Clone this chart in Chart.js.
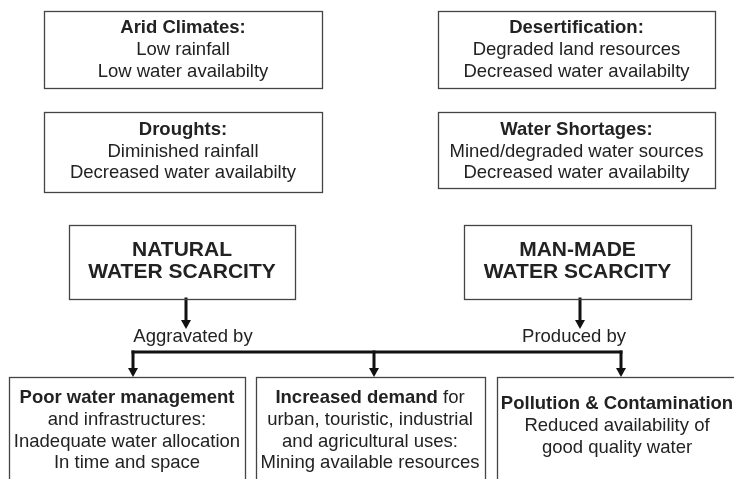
<!DOCTYPE html>
<html>
<head>
<meta charset="utf-8">
<script src="https://cdn.jsdelivr.net/npm/chart.js@4/dist/chart.umd.min.js"></script>
<style>
  body { margin: 0; background: #fff; }
  #wrap { width: 734px; height: 479px; }
</style>
</head>
<body>
<div id="wrap"><canvas id="diagramChart"></canvas></div>
<script>
// texts of the diagram
const topTitles = ['Arid Climates:', 'Droughts:', 'Desertification:', 'Water Shortages:'];
const topLines = [
    ['Low rainfall', 'Low water availabilty'],
    ['Diminished rainfall', 'Decreased water availabilty'],
    ['Degraded land resources', 'Decreased water availabilty'],
    ['Mined/degraded water sources', 'Decreased water availabilty']
];
const scarcityTypes = [['NATURAL', 'WATER SCARCITY'], ['MAN-MADE', 'WATER SCARCITY']];
const linkLabels = ['Aggravated by', 'Produced by'];
// each line is a list of [text, bold] runs
const causeLines = [
    [[['Poor water management', true]], [['and infrastructures:', false]], [['Inadequate water allocation', false]], [['In time and space', false]]],
    [[['Increased demand', true], [' for', false]], [['urban, touristic, industrial', false]], [['and agricultural uses:', false]], [['Mining available resources', false]]],
    [[['Pollution & Contamination', true]], [['Reduced availability of', false]], [['good quality water', false]]]
];

// layout in scale units (x: 0..734, y: 0..479 top-down)
const topBoxes = [[44, 11, 322, 88], [44, 112, 322, 192], [438, 11, 715, 88], [438, 112, 715, 188]];
const topTextY = [[28, 50, 72], [130, 152, 173], [28, 50, 72], [130, 152, 173]];
const scarcityBoxes = [[69, 225, 295, 299], [464, 225, 691, 299]];
const scarcityTextY = [250, 272];
const linkLabelPos = [[193, 337], [574, 337]];
const causeBoxes = [[9, 377, 245, 490], [256, 377, 485, 490], [497, 377, 745, 490]];
const causeTextX = [127, 370, 617];
const causeTextY = [[398, 420, 442, 463], [398, 420, 442, 463], [404, 426, 448]];

const connectors = [
    [[186, 299], [186, 322]],
    [[580, 299], [580, 322]],
    [[133, 352], [621, 352]],
    [[133, 352], [133, 371]],
    [[374, 352], [374, 371]],
    [[621, 352], [621, 371]]
];
const arrowTips = [[186, 329], [580, 329], [133, 377], [374, 377], [621, 377]];

const FONT = '"Liberation Sans", Arial, Helvetica, sans-serif';
const TEXT_COLOR = '#222';
const SIZE = 18.5;

function drawRuns(ctx, runs, cx, cy, size) {
    let total = 0;
    runs.forEach(r => {
        ctx.font = (r[1] ? 'bold ' : '') + size + 'px ' + FONT;
        total += ctx.measureText(r[0]).width;
    });
    let x = cx - total / 2;
    runs.forEach(r => {
        ctx.font = (r[1] ? 'bold ' : '') + size + 'px ' + FONT;
        ctx.textAlign = 'left';
        ctx.fillText(r[0], x, cy);
        x += ctx.measureText(r[0]).width;
    });
}

const diagramPlugin = {
    id: 'diagram',
    afterDatasetsDraw(chart) {
        const ctx = chart.ctx;
        const sx = v => chart.scales.x.getPixelForValue(v);
        const sy = v => chart.scales.y.getPixelForValue(v);
        ctx.save();

        const box = b => {
            ctx.strokeStyle = '#444';
            ctx.lineWidth = 1.3;
            ctx.strokeRect(Math.round(sx(b[0])) + 0.5, Math.round(sy(b[1])) + 0.5,
                Math.round(sx(b[2]) - sx(b[0])), Math.round(sy(b[3]) - sy(b[1])));
        };
        [...topBoxes, ...scarcityBoxes, ...causeBoxes].forEach(box);

        ctx.fillStyle = TEXT_COLOR;
        ctx.textBaseline = 'middle';

        topTitles.forEach((t, i) => {
            const b = topBoxes[i];
            const cx = sx((b[0] + b[2]) / 2);
            drawRuns(ctx, [[t, true]], cx, sy(topTextY[i][0]), SIZE);
            topLines[i].forEach((l, j) => drawRuns(ctx, [[l, false]], cx, sy(topTextY[i][j + 1]), SIZE));
        });

        scarcityTypes.forEach((lines, i) => {
            const b = scarcityBoxes[i];
            const cx = sx((b[0] + b[2]) / 2);
            lines.forEach((l, j) => drawRuns(ctx, [[l, true]], cx, sy(scarcityTextY[j]), 21));
        });

        linkLabels.forEach((t, i) => {
            drawRuns(ctx, [[t, false]], sx(linkLabelPos[i][0]), sy(linkLabelPos[i][1]), SIZE);
        });

        causeLines.forEach((lines, i) => {
            lines.forEach((runs, j) => {
                drawRuns(ctx, runs, sx(causeTextX[i]), sy(causeTextY[i][j]), SIZE);
            });
        });

        // arrow heads
        ctx.fillStyle = '#111';
        arrowTips.forEach(p => {
            const x = sx(p[0]), y = sy(p[1]);
            ctx.beginPath();
            ctx.moveTo(x, y);
            ctx.lineTo(x - 5, y - 9);
            ctx.lineTo(x + 5, y - 9);
            ctx.closePath();
            ctx.fill();
        });
        ctx.restore();
    }
};

const ctx = document.getElementById('diagramChart').getContext('2d');

const config = {
    type: 'scatter',
    data: {
        datasets: connectors.map(seg => ({
            data: seg.map(p => ({ x: p[0], y: p[1] })),
            showLine: true,
            borderColor: '#111',
            borderWidth: 3,
            borderCapStyle: 'square',
            pointRadius: 0,
            fill: false
        }))
    },
    options: {
        responsive: true,
        maintainAspectRatio: false,
        animation: false,
        layout: { padding: 0 },
        plugins: { legend: { display: false }, tooltip: { enabled: false } },
        scales: {
            x: { type: 'linear', min: 0, max: 734, display: false },
            y: { type: 'linear', min: 0, max: 479, reverse: true, display: false }
        }
    },
    plugins: [diagramPlugin]
};

const diagramChart = new Chart(ctx, config);
</script>
</body>
</html>
